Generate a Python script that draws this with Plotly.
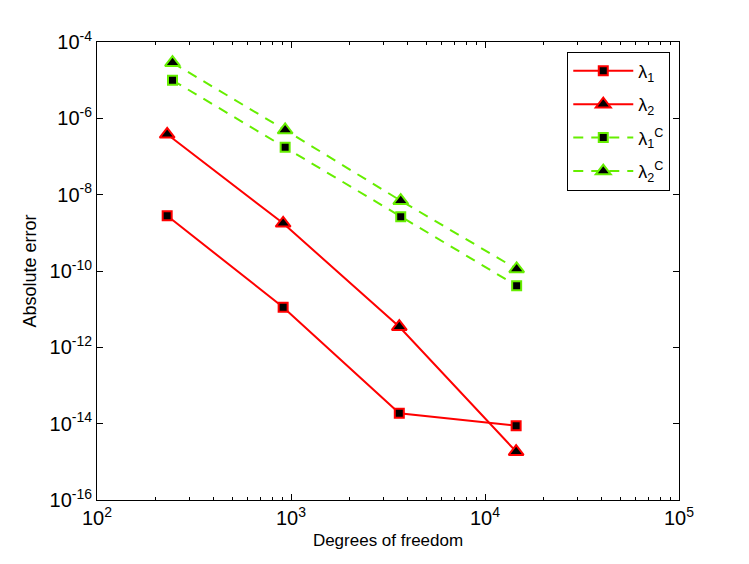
import plotly.graph_objects as go

# degrees of freedom
dof = [230, 911, 3616, 14471]
dof_c = [245, 933, 3678, 14560]

# absolute errors
err_l1 = [2.81e-9, 1.12e-11, 1.87e-14, 8.85e-15]
err_l2 = [3.82e-7, 1.78e-9, 3.47e-12, 1.85e-15]
err_l1_c = [9.93e-6, 1.74e-7, 2.65e-9, 4.12e-11]
err_l2_c = [2.87e-5, 4.95e-7, 6.95e-9, 1.13e-10]

x_ticks = [1e2, 1e3, 1e4, 1e5]
x_labels = ["10<sup>2</sup>", "10<sup>3</sup>", "10<sup>4</sup>", "10<sup>5</sup>"]
y_ticks = [1e-16, 1e-14, 1e-12, 1e-10, 1e-8, 1e-6, 1e-4]
y_labels = ["10<sup>-16</sup>", "10<sup>-14</sup>", "10<sup>-12</sup>", "10<sup>-10</sup>",
            "10<sup>-8</sup>", "10<sup>-6</sup>", "10<sup>-4</sup>"]

RED = "#ff0000"
GREEN = "#66ee00"

fig = go.Figure()

fig.add_trace(go.Scatter(
    x=dof, y=err_l1, mode="lines+markers", name="λ<sub>1</sub>", legendgroup="a",
    line=dict(color=RED, width=2),
    marker=dict(symbol="square", size=9, color="black", line=dict(color=RED, width=2))
))
fig.add_trace(go.Scatter(
    x=dof, y=err_l2, mode="lines+markers", name="λ<sub>2</sub>", legendgroup="b",
    line=dict(color=RED, width=2),
    marker=dict(symbol="triangle-up", size=13, color="black", line=dict(color=RED, width=2))
))
fig.add_trace(go.Scatter(
    x=dof_c, y=err_l1_c, mode="lines+markers", name="λ<sub>1</sub><sup>C</sup>", legendgroup="c",
    line=dict(color=GREEN, width=2, dash="10px,8px"),
    marker=dict(symbol="square", size=9, color="black", line=dict(color=GREEN, width=2))
))
fig.add_trace(go.Scatter(
    x=dof_c, y=err_l2_c, mode="lines+markers", name="λ<sub>2</sub><sup>C</sup>", legendgroup="d",
    line=dict(color=GREEN, width=2, dash="10px,8px"),
    marker=dict(symbol="triangle-up", size=13, color="black", line=dict(color=GREEN, width=2))
))

# minor ticks 2..9 in every decade
minor_x = [k * 10 ** e for e in range(2, 5) for k in range(2, 10)]

fig.update_layout(
    width=749, height=564,
    margin=dict(l=89, r=78, t=34, b=72),
    paper_bgcolor="white", plot_bgcolor="white",
    font=dict(family="Liberation Sans, Arial, sans-serif", size=16, color="black"),
    showlegend=True,
    legend=dict(
        x=0.985, y=0.979, xanchor="right", yanchor="top",
        bordercolor="black", borderwidth=1, bgcolor="white",
        font=dict(size=18), itemwidth=60, tracegroupgap=7,
    ),
    xaxis=dict(tickfont=dict(family="Liberation Sans", size=20, color="black")),
    yaxis=dict(tickfont=dict(family="Liberation Sans", size=20, color="black")),
)

fig.update_xaxes(
    type="log", range=[2, 5],
    tickmode="array", tickvals=x_ticks, ticktext=x_labels,
    ticks="inside", ticklen=6, tickcolor="black",
    minor=dict(tickmode="array", tickvals=minor_x, ticks="inside", ticklen=3, tickcolor="black", showgrid=False),
    showline=True, linecolor="black", linewidth=1, mirror="ticks",
    showgrid=False, zeroline=False,
    title=dict(text="Degrees of freedom", font=dict(size=17), standoff=6),
)
fig.update_yaxes(
    type="log", range=[-16, -4],
    tickmode="array", tickvals=y_ticks, ticktext=y_labels,
    ticks="inside", ticklen=6, tickcolor="black",
    showline=True, linecolor="black", linewidth=1, mirror="ticks",
    showgrid=False, zeroline=False,
    title=dict(text="Absolute error", font=dict(size=18), standoff=8),
)

fig.write_html("out.html")
